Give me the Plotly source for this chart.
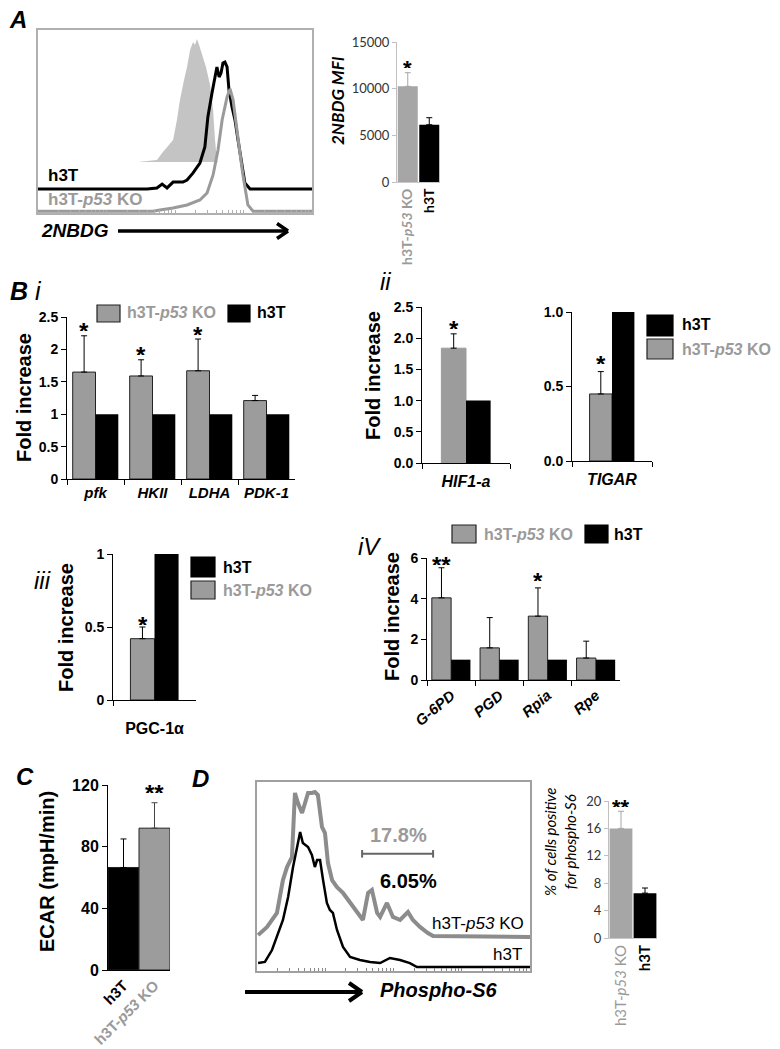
import numpy as np
import plotly.graph_objects as go

W, H = 780, 1049
ARIAL = "Liberation Sans"
CALI = "Lato"
GTXT = "#9a9a9a"
GBAR = "#9c9c9c"
XLG = "#a6a6a6"

# ---------------- data ----------------
# Panel A: 2NBDG flow histogram (channel 0-100, relative count 0-100, staggered overlay)
a_ctrl_x = [36.5, 43.4, 45.6, 47.1, 49.3, 50.7, 51.8, 53.3, 54.4, 55.5, 56.6, 57.3, 58.0, 58.8, 59.9, 61.3, 62.8, 63.9, 64.6, 65.3, 65.7]
a_ctrl_y = [27.9, 29.0, 33.3, 36.1, 39.9, 50.8, 61.7, 72.7, 79.8, 89.1, 93.4, 91.8, 95.1, 91.8, 86.3, 79.8, 69.9, 56.3, 39.9, 29.0, 27.9]
a_h3t_x = [0, 39.8, 43.4, 45.3, 47.1, 49.3, 52.9, 54.4, 56.6, 59.1, 60.9, 62.0, 63.5, 64.6, 65.3, 66.1, 66.8, 67.5, 68.2, 69.0, 69.7, 70.8, 71.9, 73.0, 74.5, 75.5, 77.4, 100]
a_h3t_y = [13.1, 13.1, 13.7, 15.8, 13.7, 16.9, 16.9, 18.0, 21.9, 27.3, 36.1, 52.5, 65.6, 74.3, 79.8, 74.3, 76.5, 82.0, 82.5, 79.8, 67.2, 57.9, 50.8, 39.9, 25.1, 16.4, 13.1, 13.1]
a_ko_x = [0, 42.0, 44.5, 49.3, 54.4, 59.1, 61.7, 63.9, 65.7, 67.2, 69.0, 70.1, 71.2, 72.6, 73.7, 74.8, 75.5, 76.6, 78.5, 100]
a_ko_y = [1, 1, 1.6, 2.7, 4.4, 7.1, 10.9, 20.8, 34.4, 50.8, 63.4, 67.8, 61.7, 47.0, 32.8, 20.8, 14.2, 4.4, 1, 1]

# Panel A: 2NBDG MFI
a_bar_groups = ["h3T-p53 KO", "h3T"]
a_bar_vals = [10250, 6140]
a_bar_err = [1460, 750]

# Panel B i
bi_genes = ["pfk", "HKII", "LDHA", "PDK-1"]
bi_ko = [1.65, 1.59, 1.67, 1.21]
bi_ko_err = [0.56, 0.25, 0.49, 0.08]
bi_h3t = [1, 1, 1, 1]
bi_stars = ["*", "*", "*", ""]

# Panel B ii
hif_ko, hif_ko_err, hif_h3t = 1.84, 0.23, 1.0
tigar_ko, tigar_ko_err, tigar_h3t = 0.45, 0.15, 1.0

# Panel B iii
pgc_ko, pgc_ko_err, pgc_h3t = 0.42, 0.08, 1.0

# Panel B iv
iv_genes = ["G-6PD", "PGD", "Rpia", "Rpe"]
iv_ko = [4.04, 1.58, 3.14, 1.08]
iv_ko_err = [1.48, 1.49, 1.39, 0.83]
iv_h3t = [1, 1, 1, 1]
iv_stars = ["**", "", "*", ""]

# Panel C: ECAR
c_groups = ["h3T", "h3T-p53 KO"]
c_vals = [66.5, 92]
c_err = [18.5, 16.5]

# Panel D: phospho-S6 histogram
d_ko_x = [0.4, 3.7, 7.3, 9.5, 11.0, 12.8, 13.9, 15.0, 16.5, 17.6, 18.7, 20.1, 21.2, 22.3, 23.8, 24.9, 26.0, 27.5, 29.3, 31.5, 34.1, 36.6, 38.8, 40.7, 42.1, 44.0, 45.1, 47.6, 49.8, 52.4, 55.3, 57.1, 59.7, 62.6, 64.5, 100]
d_ko_y = [19.0, 23.3, 30.7, 48.1, 55.0, 60.3, 94.2, 88.9, 83.6, 88.9, 94.2, 94.2, 94.7, 93.1, 76.2, 73.0, 57.1, 48.1, 44.4, 41.3, 36.0, 30.7, 27.0, 41.3, 42.9, 30.7, 28.6, 36.0, 28.6, 27.0, 31.2, 27.0, 23.3, 20.1, 18.5, 18.0]
d_h3t_x = [0.4, 2.9, 5.5, 7.7, 9.5, 11.4, 13.2, 14.7, 15.8, 16.8, 18.7, 20.1, 21.2, 22.0, 23.1, 24.2, 25.6, 26.7, 27.8, 29.3, 31.5, 34.1, 37.7, 41.4, 45.1, 48.7, 52.4, 56.0, 58.6, 100]
d_h3t_y = [4.2, 4.8, 11.1, 20.1, 27.0, 39.2, 55.0, 65.6, 73.5, 67.7, 65.6, 61.4, 55.0, 58.7, 58.7, 48.1, 36.0, 32.3, 30.7, 21.7, 12.7, 7.4, 5.8, 4.8, 4.2, 6.9, 5.8, 4.2, 2.1, 2.1]
d_gate = [38.5, 64.5]
d_pct = ["17.8%", "6.05%"]

# Panel D: % cells positive
d_bar_groups = ["h3T-p53 KO", "h3T"]
d_bar_vals = [16.0, 6.55]
d_bar_err = [2.5, 0.75]

# ---------------- helpers ----------------
def xd(a, b):
    return [a / W, b / W]

def yd(t, b):
    return [1 - b / H, 1 - t / H]

def px(x):
    return x / W

def py(y):
    return 1 - y / H

def ko_label(bold=True, color=GTXT):
    s = "h3T-<i>p53</i> KO"
    if bold:
        s = "<b>" + s + "</b>"
    return f"<span style='color:{color}'>{s}</span>"

annotations = []
shapes = []

def txt(s, x, y, size, color="black", family=ARIAL, xanchor="left", yanchor="middle", angle=0):
    annotations.append(dict(text=s, x=px(x), y=py(y), xref="paper", yref="paper",
                            showarrow=False, xanchor=xanchor, yanchor=yanchor, textangle=angle,
                            font=dict(family=family, size=size, color=color)))

def star(s, xcat, yval, xa, ya, shift_px, gap, size=24):
    # compact text box hugging the asterisk glyph
    annotations.append(dict(text=f"<b>{s}</b>", x=xcat, y=yval, xref=xa, yref=ya, showarrow=False,
                            xanchor="center", yanchor="middle", xshift=shift_px, yshift=gap,
                            height=round(size * 0.55), valign="top", borderpad=0,
                            font=dict(family=ARIAL, size=size, color="black")))

def box(x0, y0, x1, y1, color, line="#222"):
    shapes.append(dict(type="rect", xref="paper", yref="paper", x0=px(x0), x1=px(x1), y0=py(y1), y1=py(y0),
                       fillcolor=color, line=dict(color=line, width=1.2)))

def pline(x0, y0, x1, y1, color="black", width=2):
    shapes.append(dict(type="line", xref="paper", yref="paper", x0=px(x0), x1=px(x1), y0=py(y0), y1=py(y1),
                       line=dict(color=color, width=width)))

def arrow(x0, x1, y, width, head):
    pline(x0, y, x1, y, width=width)
    pline(x1 - head, y - head * 0.75, x1 + 1, y, width=width)
    pline(x1 - head, y + head * 0.75, x1 + 1, y, width=width)

fig = go.Figure()

def bar(xs, ys, err, color, width, offset, xa, ya, outline=None, err_color="black"):
    n = len(xs)
    kw = {}
    if err is not None:
        kw["error_y"] = dict(type="data", symmetric=False, array=err, arrayminus=[0] * n,
                             color=err_color, thickness=1, width=3)
    fig.add_trace(go.Bar(x=xs, y=ys, width=[width] * n, offset=offset, xaxis=xa, yaxis=ya,
                         marker=dict(color=color, line=dict(color=outline or color, width=1 if outline else 0)),
                         showlegend=False, hoverinfo="skip", **kw))

def cat_x(dom, anchor, n, tickfont, tickangle=0, lc="black", ticks="outside", standoff=None):
    d = dict(domain=dom, anchor=anchor, type="category", range=[-0.5, n - 0.5], showline=True,
             linecolor=lc, linewidth=1, ticks=ticks, ticklen=5, tickcolor=lc, tickson="boundaries",
             tickfont=tickfont, tickangle=tickangle, showgrid=False, zeroline=False, fixedrange=True,
             automargin=False)
    if standoff is not None:
        d["ticklabelstandoff"] = standoff
    return d

def val_y(dom, anchor, rng, tv, tt, tickfont, lc="black", ticklen=5):
    return dict(domain=dom, anchor=anchor, range=rng, tickmode="array", tickvals=tv, ticktext=tt,
                showline=True, linecolor=lc, linewidth=1, ticks="outside", ticklen=ticklen, tickcolor=lc,
                tickfont=tickfont, showgrid=False, zeroline=False, fixedrange=True, automargin=False)

BF14 = dict(family=ARIAL, size=14, color="black")
logt = [d * 25 + 25 * np.log10(k) for d in range(4) for k in range(1, 10)] + [100]

layout = {}

# ---------------- Panel A histogram ----------------
fig.add_trace(go.Scatter(x=a_ctrl_x, y=a_ctrl_y, fill="toself", fillcolor="#c4c4c4", mode="lines",
                         line=dict(width=0, color="#c4c4c4"), xaxis="x", yaxis="y", showlegend=False, hoverinfo="skip"))
fig.add_trace(go.Scatter(x=a_h3t_x, y=a_h3t_y, mode="lines", line=dict(color="black", width=3),
                         xaxis="x", yaxis="y", showlegend=False, hoverinfo="skip"))
fig.add_trace(go.Scatter(x=a_ko_x, y=a_ko_y, mode="lines", line=dict(color="#9a9a9a", width=3),
                         xaxis="x", yaxis="y", showlegend=False, hoverinfo="skip"))
hist_ax = dict(range=[0, 100], showline=True, mirror=True, linecolor="#b0b0b0", linewidth=1.5,
               showticklabels=False, showgrid=False, zeroline=False, fixedrange=True, automargin=False)
layout["xaxis"] = dict(hist_ax, domain=xd(38, 312), anchor="y", ticks="inside", ticklen=3,
                       tickcolor="#b0b0b0", tickmode="array", tickvals=logt)
layout["yaxis"] = dict(hist_ax, domain=yd(30, 213), anchor="x", ticks="")
txt("<b><i>A</i></b>", 7, 20, 24)
txt("<b>h3T</b>", 46, 176, 17)
txt(f"<b>h3T-<i>p53</i> KO</b>", 46, 199, 17, color=GTXT)
txt("<b><i>2NBDG</i></b>", 39, 231, 19)
arrow(118, 287, 231, 3.5, 10)

# ---------------- Panel A bar ----------------
a_lab = [ko_label(True), "<b>h3T</b>"]
bar([a_lab[0]], [a_bar_vals[0]], [a_bar_err[0]], XLG, 0.93, -0.465, "x2", "y2", err_color=XLG)
bar([a_lab[1]], [a_bar_vals[1]], [a_bar_err[1]], "black", 0.93, -0.465, "x2", "y2")
layout["xaxis2"] = cat_x(xd(397, 440), "y2", 2, dict(family=CALI, size=14, color="black"), tickangle=-90,
                         lc="#c8c8c8", ticks="")
layout["xaxis2"]["categoryorder"] = "array"
layout["xaxis2"]["categoryarray"] = a_lab
layout["yaxis2"] = val_y(yd(42, 182), "x2", [0, 15000], [0, 5000, 10000, 15000],
                         ["0", "5000", "10000", "15000"], dict(family=CALI, size=13, color="#333"),
                         lc="#c0c0c0", ticklen=4)
star("*", a_lab[0], a_bar_vals[0] + a_bar_err[0], "x2", "y2", 0, 11, size=22)
txt("<b><i>2NBDG MFI</i></b>", 338, 101, 17, family=CALI, xanchor="center", angle=-90)

# ---------------- Panel B i ----------------
bi_lab = [f"<b><i>{g}</i></b>" for g in bi_genes]
bar(bi_lab, bi_ko, bi_ko_err, GBAR, 0.40, -0.40, "x3", "y3", outline="#222")
bar(bi_lab, bi_h3t, None, "black", 0.40, 0.0, "x3", "y3")
layout["xaxis3"] = cat_x(xd(67, 295), "y3", 4, dict(family=ARIAL, size=15, color="black"))
layout["yaxis3"] = val_y(yd(317, 479), "x3", [0, 2.5], [0, 0.5, 1, 1.5, 2, 2.5],
                         ["<b>0</b>", "<b>0.5</b>", "<b>1</b>", "<b>1.5</b>", "<b>2</b>", "<b>2.5</b>"], BF14)
for lab, v, e, s in zip(bi_lab, bi_ko, bi_ko_err, bi_stars):
    if s:
        star(s, lab, v + e, "x3", "y3", -11.4, 11)
txt("<b><i>B</i></b> <i>i</i>", 8, 291, 25)
txt("<b>Fold increase</b>", 24, 398, 20, xanchor="center", angle=-90)
box(97, 305, 120, 322, GBAR)
txt(ko_label(True), 125, 313, 16)
box(228, 305, 250, 322, "black", line="black")
txt("<b>h3T</b>", 255, 313, 16)

# ---------------- Panel B ii: HIF1-a ----------------
hif_lab = ["<b><i>HIF1-a</i></b>"]
bar(hif_lab, [hif_ko], [hif_ko_err], GBAR, 0.28, -0.28, "x4", "y4", outline=GBAR)
bar(hif_lab, [hif_h3t], None, "black", 0.28, 0.0, "x4", "y4")
layout["xaxis4"] = cat_x(xd(422, 510), "y4", 1, dict(family=ARIAL, size=16, color="black"), standoff=4)
layout["yaxis4"] = val_y(yd(307, 463), "x4", [0, 2.5], [0, 0.5, 1, 1.5, 2, 2.5],
                         ["<b>0.0</b>", "<b>0.5</b>", "<b>1.0</b>", "<b>1.5</b>", "<b>2.0</b>", "<b>2.5</b>"], BF14)
star("*", hif_lab[0], hif_ko + hif_ko_err, "x4", "y4", -12.3, 11)
txt("<i>ii</i>", 378, 281, 24)
txt("<b>Fold increase</b>", 373, 376, 20, xanchor="center", angle=-90)

# ---------------- Panel B ii: TIGAR ----------------
tig_lab = ["<b><i>TIGAR</i></b>"]
bar(tig_lab, [tigar_ko], [tigar_ko_err], GBAR, 0.28, -0.28, "x5", "y5", outline="#222")
bar(tig_lab, [tigar_h3t], None, "black", 0.28, 0.0, "x5", "y5")
layout["xaxis5"] = cat_x(xd(572, 652), "y5", 1, dict(family=ARIAL, size=16, color="black"), standoff=4)
layout["yaxis5"] = val_y(yd(312, 461), "x5", [0, 1], [0, 0.5, 1],
                         ["<b>0.0</b>", "<b>0.5</b>", "<b>1.0</b>"], BF14)
star("*", tig_lab[0], tigar_ko + tigar_ko_err, "x5", "y5", -11.2, 14)
box(647, 315, 673, 336, "black", line="black")
txt("<b>h3T</b>", 680, 324, 16)
box(647, 339, 673, 359, GBAR)
txt(ko_label(True), 680, 349, 16)

# ---------------- Panel B iii ----------------
pgc_lab = ["<b>PGC-1α</b>"]
bar(pgc_lab, [pgc_ko], [pgc_ko_err], GBAR, 0.29, -0.29, "x6", "y6", outline="#222")
bar(pgc_lab, [pgc_h3t], None, "black", 0.29, 0.0, "x6", "y6")
layout["xaxis6"] = cat_x(xd(113, 196), "y6", 1, dict(family=ARIAL, size=16, color="black"), standoff=14)
layout["yaxis6"] = val_y(yd(554, 700), "x6", [0, 1], [0, 0.5, 1],
                         ["<b>0</b>", "<b>0.5</b>", "<b>1</b>"], BF14)
star("*", pgc_lab[0], pgc_ko + pgc_ko_err, "x6", "y6", -12, 9)
txt("<i>iii</i>", 32, 580, 24)
txt("<b>Fold increase</b>", 66, 628, 20, xanchor="center", angle=-90)
box(191, 557, 215, 577, "black", line="black")
txt("<b>h3T</b>", 221, 567, 16)
box(191, 581, 215, 599, GBAR)
txt(ko_label(True), 221, 590, 16)

# ---------------- Panel B iv ----------------
iv_lab = [f"<b><i>{g}</i></b>" for g in iv_genes]
bar(iv_lab, iv_ko, iv_ko_err, GBAR, 0.40, -0.40, "x7", "y7", outline="#222")
bar(iv_lab, iv_h3t, None, "black", 0.40, 0.0, "x7", "y7")
layout["xaxis7"] = cat_x(xd(427, 620), "y7", 4, dict(family=ARIAL, size=15, color="black"), tickangle=-40)
layout["yaxis7"] = val_y(yd(558, 680), "x7", [0, 6], [0, 2, 4, 6],
                         ["<b>0</b>", "<b>2</b>", "<b>4</b>", "<b>6</b>"], BF14)
for lab, v, e, s in zip(iv_lab, iv_ko, iv_ko_err, iv_stars):
    if s:
        star(s, lab, v + e, "x7", "y7", -9.6, 9 if s == "**" else 13)
txt("<i>iV</i>", 356, 546, 24)
txt("<b>Fold increase</b>", 392, 617, 20, xanchor="center", angle=-90)
box(452, 525, 476, 543, GBAR)
txt(ko_label(True), 482, 534, 16)
box(585, 525, 608, 543, "black", line="black")
txt("<b>h3T</b>", 612, 534, 16)

# ---------------- Panel C ----------------
c_lab = ["<b>h3T</b>", ko_label(True)]
bar([c_lab[0]], [c_vals[0]], [c_err[0]], "black", 1.0, -0.5, "x8", "y8", outline="#222")
bar([c_lab[1]], [c_vals[1]], [c_err[1]], GBAR, 1.0, -0.5, "x8", "y8", outline="#222", err_color="#444")
layout["xaxis8"] = cat_x(xd(108, 170), "y8", 2, dict(family=ARIAL, size=15, color="black"), tickangle=-45, ticks="")
layout["xaxis8"]["categoryorder"] = "array"
layout["xaxis8"]["categoryarray"] = c_lab
layout["yaxis8"] = val_y(yd(785, 970), "x8", [0, 120], [0, 40, 80, 120],
                         ["<b>0</b>", "<b>40</b>", "<b>80</b>", "<b>120</b>"], dict(family=ARIAL, size=16, color="black"))
star("**", c_lab[1], c_vals[1] + c_err[1], "x8", "y8", 0, 16)
txt("<b><i>C</i></b>", 14, 776, 24)
txt("<b>ECAR (mpH/min)</b>", 47, 872, 20, xanchor="center", angle=-90)

# ---------------- Panel D histogram ----------------
fig.add_trace(go.Scatter(x=d_ko_x, y=d_ko_y, mode="lines", line=dict(color="#8c8c8c", width=4),
                         xaxis="x9", yaxis="y9", showlegend=False, hoverinfo="skip"))
fig.add_trace(go.Scatter(x=d_h3t_x, y=d_h3t_y, mode="lines", line=dict(color="black", width=2.5),
                         xaxis="x9", yaxis="y9", showlegend=False, hoverinfo="skip"))
layout["xaxis9"] = dict(hist_ax, domain=xd(257, 530), anchor="y9", ticks="inside", ticklen=3,
                        tickcolor="#888", tickmode="array", tickvals=logt, linecolor="#a0a0a0")
layout["yaxis9"] = dict(hist_ax, domain=yd(782, 971), anchor="x9", ticks="", linecolor="#a0a0a0")
shapes.append(dict(type="line", xref="x9", yref="y9", x0=d_gate[0], x1=d_gate[1], y0=62, y1=62,
                   line=dict(color="#666", width=2)))
for gx in d_gate:
    shapes.append(dict(type="line", xref="x9", yref="y9", x0=gx, x1=gx, y0=60, y1=64,
                       line=dict(color="#666", width=2)))
txt(f"<b>{d_pct[0]}</b>", 398, 835, 20, color=GTXT, xanchor="center")
txt(f"<b>{d_pct[1]}</b>", 408, 881, 20, xanchor="center")
txt("h3T-<i>p53</i> KO", 526, 923, 17, xanchor="right")
txt("h3T", 524, 954, 17, xanchor="right")
txt("<b><i>D</i></b>", 190, 778, 24)
arrow(245, 361, 992, 4, 12)
txt("<b><i>Phospho-S6</i></b>", 378, 990, 20)

# ---------------- Panel D bar ----------------
d_lab = [ko_label(False), "<b>h3T</b>"]
bar([d_lab[0]], [d_bar_vals[0]], [d_bar_err[0]], XLG, 0.95, -0.475, "x10", "y10", err_color=XLG)
bar([d_lab[1]], [d_bar_vals[1]], [d_bar_err[1]], "black", 0.95, -0.475, "x10", "y10")
layout["xaxis10"] = cat_x(xd(609, 657), "y10", 2, dict(family=CALI, size=15, color="black"), tickangle=-90,
                          lc="#c8c8c8", ticks="")
layout["xaxis10"]["categoryorder"] = "array"
layout["xaxis10"]["categoryarray"] = d_lab
layout["yaxis10"] = val_y(yd(801, 938), "x10", [0, 20], [0, 4, 8, 12, 16, 20],
                          ["0", "4", "8", "12", "16", "20"], dict(family=CALI, size=13, color="#333"),
                          lc="#c0c0c0", ticklen=4)
star("**", d_lab[0], d_bar_vals[0] + d_bar_err[0], "x10", "y10", 0, 10, size=22)
txt("<i>% of cells positive<br>for phospho-S6</i>", 560, 842, 15, family=CALI, xanchor="center", angle=-90)

fig.update_layout(template="none", width=W, height=H, margin=dict(l=0, r=0, t=0, b=0, pad=0), autosize=False,
                  paper_bgcolor="white", plot_bgcolor="rgba(0,0,0,0)", barmode="overlay",
                  showlegend=False, annotations=annotations, shapes=shapes, **layout)

fig.write_html("out.html", config={"displayModeBar": False},
               post_script="document.body.style.margin='0';document.body.style.padding='0';"
                           "document.body.style.overflow='hidden';")
